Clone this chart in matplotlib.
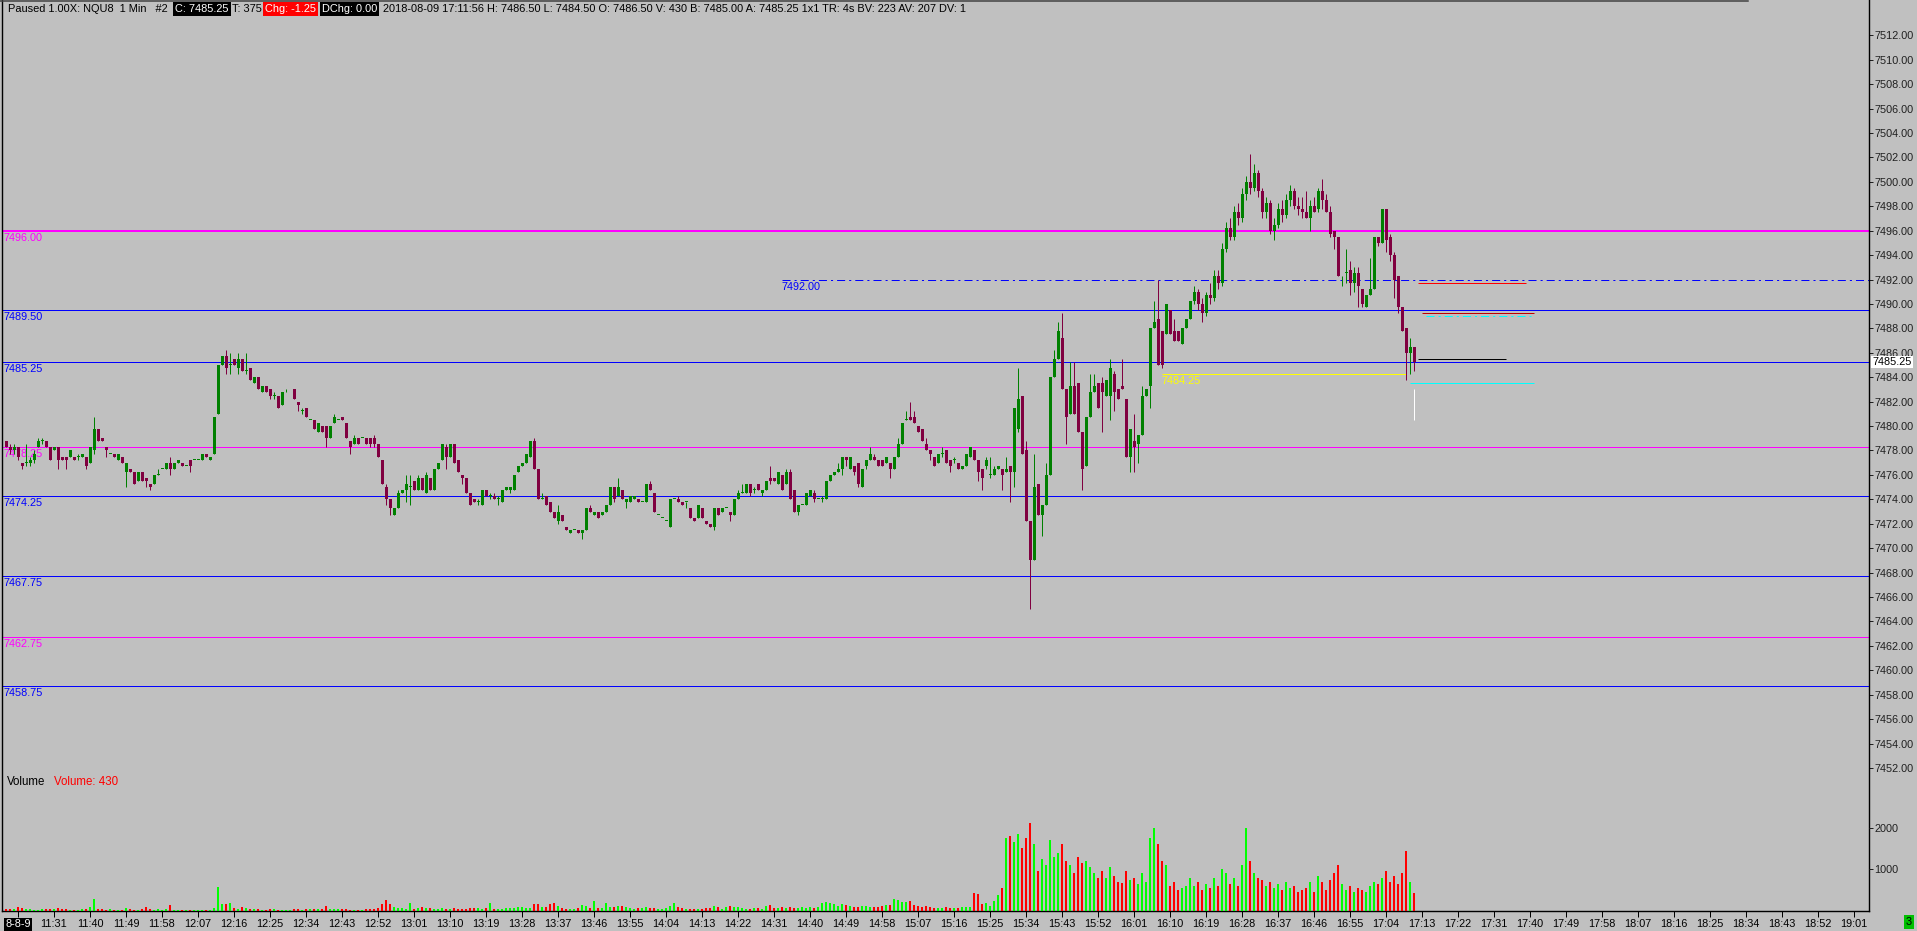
import matplotlib
matplotlib.use('Agg')
import matplotlib.pyplot as plt
from matplotlib import font_manager
from matplotlib.lines import Line2D

W, H = 1917, 931
BG = '#c0c0c0'

names = {f.name for f in font_manager.fontManager.ttflist}
FONT = 'Liberation Sans' if 'Liberation Sans' in names else 'DejaVu Sans'
plt.rcParams['font.family'] = [FONT, 'DejaVu Sans']
plt.rcParams['lines.scale_dashes'] = False
FS = 7.8

# 1-minute bars, 11:19 .. 17:11
opens = [
    7478.75, 7478.25, 7478.0, 7478.25, 7477.0, 7477.0, 7477.0, 7477.25, 7478.25, 7478.75,
    7478.75, 7478.25, 7478.0, 7478.25, 7477.5, 7477.5, 7477.5, 7477.5, 7477.5, 7477.5,
    7477.5, 7477.0, 7478.0, 7479.75, 7479.0, 7478.25, 7477.75, 7477.75, 7477.25, 7477.5,
    7476.25, 7476.5, 7476.25, 7475.5, 7476.25, 7475.75, 7475.25, 7475.25, 7476.0, 7476.5,
    7476.5, 7477.0, 7476.5, 7477.0, 7477.0, 7476.75, 7477.25, 7477.25, 7477.25, 7477.25,
    7477.75, 7477.25, 7477.75, 7481.0, 7485.0, 7485.75, 7485.0, 7485.5, 7484.75, 7485.5,
    7484.5, 7484.75, 7483.5, 7484.0, 7482.75, 7483.25, 7483.0, 7482.5, 7482.5, 7481.75,
    7482.75, 7482.75, 7483.0, 7482.0, 7481.25, 7481.5, 7480.5, 7480.5, 7479.5, 7480.0,
    7480.0, 7479.0, 7480.25, 7480.5, 7480.75, 7480.25, 7478.75, 7478.5, 7479.0, 7479.0,
    7479.0, 7479.0, 7479.0, 7478.5, 7477.25, 7475.0, 7474.0, 7472.75, 7473.25, 7474.5,
    7474.75, 7475.0, 7475.5, 7474.75, 7475.75, 7474.5, 7475.75, 7474.75, 7476.5, 7477.25,
    7478.25, 7477.5, 7478.5, 7477.25, 7476.0, 7475.75, 7474.5, 7474.0, 7473.75, 7473.5,
    7474.75, 7474.25, 7474.25, 7474.0, 7473.75, 7474.75, 7474.75, 7474.75, 7476.25, 7476.75,
    7477.0, 7477.5, 7478.75, 7476.5, 7474.0, 7474.25, 7473.75, 7473.0, 7472.25, 7472.75,
    7471.75, 7471.25, 7471.5, 7471.5, 7471.25, 7471.5, 7473.25, 7472.75, 7473.0, 7472.75,
    7473.0, 7473.5, 7475.0, 7474.25, 7474.75, 7473.75, 7473.75, 7474.0, 7474.0, 7473.75,
    7473.75, 7475.25, 7474.5, 7472.75, 7472.5, 7472.25, 7471.75, 7474.0, 7474.0, 7473.75,
    7473.75, 7473.25, 7472.5, 7472.5, 7473.25, 7472.25, 7472.0, 7471.75, 7473.25, 7473.0,
    7473.25, 7473.0, 7472.75, 7474.0, 7474.5, 7474.5, 7475.25, 7474.75, 7475.25, 7474.5,
    7474.75, 7475.75, 7475.75, 7475.25, 7476.0, 7475.25, 7476.25, 7474.75, 7473.0, 7473.5,
    7473.5, 7474.25, 7474.5, 7474.0, 7474.0, 7474.0, 7475.5, 7476.0, 7476.25, 7476.5,
    7477.5, 7476.5, 7476.75, 7477.0, 7475.0, 7476.75, 7477.25, 7477.5, 7477.25, 7477.25,
    7477.0, 7477.0, 7476.5, 7477.5, 7478.5, 7480.5, 7480.75, 7480.75, 7480.0, 7479.75,
    7478.5, 7478.0, 7477.5, 7477.0, 7477.75, 7478.0, 7477.25, 7477.25, 7477.0, 7476.5,
    7476.75, 7477.5, 7478.0, 7477.25, 7476.5, 7476.75, 7476.0, 7476.0, 7476.5, 7476.5,
    7476.25, 7476.75, 7476.25, 7479.75, 7482.5, 7478.0, 7472.25, 7469.0, 7475.25, 7472.75,
    7473.5, 7476.0, 7484.0, 7485.5, 7487.25, 7483.0, 7481.0, 7483.25, 7483.5, 7479.5,
    7476.75, 7480.75, 7482.75, 7483.5, 7483.5, 7482.5, 7482.5, 7484.25, 7483.0, 7483.25,
    7482.25, 7477.5, 7478.75, 7478.5, 7479.25, 7482.5, 7483.25, 7488.0, 7488.75, 7487.75,
    7487.5, 7489.5, 7487.75, 7487.75, 7486.75, 7488.0, 7488.75, 7490.25, 7491.0, 7490.0,
    7489.25, 7490.75, 7490.5, 7492.25, 7491.75, 7494.5, 7496.25, 7495.5, 7497.5, 7497.0,
    7499.0, 7500.0, 7499.5, 7500.75, 7499.25, 7497.5, 7498.25, 7496.0, 7496.5, 7497.75,
    7497.25, 7498.5, 7499.25, 7498.0, 7497.75, 7497.5, 7497.0, 7498.0, 7497.75, 7499.25,
    7498.5, 7497.5, 7496.0, 7495.5, 7492.25, 7492.5, 7492.75, 7491.75, 7492.5, 7491.25,
    7489.75, 7490.75, 7491.25, 7495.5, 7495.0, 7497.75, 7495.5, 7494.0, 7492.25, 7489.75,
    7488.0, 7486.0, 7486.5,
]
highs = [
    7478.75, 7478.5, 7478.5, 7478.25, 7477.0, 7478.5, 7477.5, 7478.0, 7479.0, 7479.0,
    7478.75, 7478.25, 7478.25, 7478.25, 7477.5, 7477.5, 7478.0, 7477.5, 7477.75, 7477.75,
    7477.5, 7478.25, 7480.75, 7479.75, 7479.0, 7478.25, 7477.75, 7477.75, 7477.75, 7477.5,
    7477.0, 7476.5, 7476.25, 7476.25, 7476.25, 7475.75, 7475.25, 7476.0, 7476.5, 7476.5,
    7477.0, 7477.5, 7477.0, 7477.25, 7477.0, 7476.75, 7477.25, 7477.25, 7477.25, 7477.75,
    7477.75, 7477.5, 7480.75, 7485.0, 7485.75, 7486.25, 7486.0, 7485.5, 7486.0, 7485.5,
    7486.0, 7484.75, 7484.0, 7484.0, 7483.25, 7483.25, 7483.0, 7482.75, 7482.5, 7482.75,
    7483.0, 7482.75, 7483.0, 7482.0, 7481.5, 7481.5, 7480.5, 7480.5, 7480.25, 7480.0,
    7480.0, 7480.0, 7481.0, 7480.5, 7480.75, 7480.25, 7478.75, 7479.25, 7479.0, 7479.0,
    7479.0, 7479.0, 7479.25, 7478.5, 7477.25, 7475.25, 7474.0, 7473.25, 7474.75, 7474.75,
    7476.0, 7476.0, 7475.5, 7476.0, 7475.75, 7476.25, 7475.75, 7476.5, 7477.0, 7478.5,
    7478.5, 7478.5, 7478.5, 7477.25, 7476.0, 7475.75, 7474.5, 7474.0, 7474.0, 7474.75,
    7474.75, 7474.5, 7474.5, 7474.25, 7474.75, 7475.0, 7475.0, 7476.0, 7476.75, 7477.0,
    7477.75, 7478.75, 7479.0, 7476.5, 7474.5, 7474.25, 7473.75, 7473.0, 7473.5, 7472.75,
    7471.75, 7471.5, 7471.5, 7471.5, 7471.5, 7473.25, 7473.5, 7473.0, 7473.0, 7473.0,
    7473.5, 7475.0, 7475.0, 7475.75, 7474.75, 7474.0, 7474.25, 7474.25, 7474.0, 7473.75,
    7475.25, 7475.5, 7474.5, 7472.75, 7472.5, 7472.25, 7474.0, 7474.0, 7474.25, 7473.75,
    7473.75, 7473.25, 7472.5, 7473.5, 7473.25, 7472.25, 7472.0, 7473.25, 7473.25, 7473.25,
    7473.25, 7473.0, 7474.0, 7474.75, 7475.25, 7475.25, 7475.25, 7475.0, 7475.25, 7474.75,
    7475.5, 7476.75, 7475.75, 7476.25, 7476.0, 7476.5, 7476.5, 7474.75, 7473.5, 7473.5,
    7474.5, 7474.75, 7474.75, 7474.0, 7474.25, 7475.5, 7476.0, 7476.25, 7477.0, 7477.5,
    7477.5, 7477.5, 7476.75, 7477.0, 7476.5, 7477.25, 7478.25, 7477.75, 7477.25, 7477.25,
    7477.5, 7477.0, 7477.5, 7479.0, 7480.25, 7481.25, 7482.0, 7481.25, 7480.0, 7479.75,
    7479.0, 7478.0, 7477.5, 7477.75, 7478.25, 7478.0, 7477.25, 7477.5, 7477.0, 7476.75,
    7477.75, 7478.25, 7478.0, 7477.25, 7476.5, 7477.5, 7477.5, 7476.75, 7476.75, 7476.5,
    7477.5, 7476.75, 7481.5, 7484.75, 7482.5, 7478.75, 7472.25, 7477.75, 7475.25, 7473.5,
    7477.0, 7484.0, 7486.25, 7488.5, 7489.25, 7483.0, 7485.25, 7485.25, 7483.5, 7479.5,
    7480.75, 7484.25, 7484.25, 7483.5, 7484.0, 7483.75, 7485.5, 7484.5, 7483.0, 7485.5,
    7482.25, 7479.75, 7481.0, 7479.25, 7483.25, 7483.0, 7488.0, 7490.25, 7492.0, 7487.75,
    7490.0, 7489.5, 7488.75, 7487.75, 7488.0, 7488.75, 7490.25, 7491.5, 7491.25, 7490.5,
    7491.0, 7491.75, 7492.75, 7492.75, 7495.0, 7496.75, 7497.0, 7498.0, 7498.25, 7499.5,
    7500.5, 7502.25, 7501.5, 7501.0, 7499.5, 7498.75, 7498.5, 7497.0, 7498.25, 7498.5,
    7499.0, 7499.75, 7499.5, 7498.75, 7498.75, 7499.25, 7498.5, 7498.75, 7499.5, 7500.25,
    7499.0, 7498.0, 7496.0, 7495.5, 7492.25, 7494.5, 7493.5, 7493.0, 7493.0, 7491.25,
    7490.75, 7493.75, 7495.5, 7495.5, 7497.75, 7497.75, 7495.75, 7494.25, 7492.25, 7489.75,
    7488.0, 7487.25, 7486.5,
]
lows = [
    7478.25, 7477.75, 7477.75, 7477.25, 7476.5, 7476.75, 7476.75, 7477.0, 7478.25, 7478.5,
    7478.25, 7477.25, 7478.0, 7476.5, 7477.25, 7476.5, 7477.5, 7477.25, 7477.25, 7477.5,
    7476.5, 7477.0, 7477.75, 7478.75, 7478.75, 7477.5, 7477.75, 7477.5, 7477.25, 7477.0,
    7475.0, 7476.25, 7475.25, 7475.5, 7475.5, 7475.0, 7474.75, 7475.25, 7476.0, 7476.5,
    7476.5, 7476.0, 7476.5, 7477.0, 7476.75, 7476.75, 7476.25, 7477.25, 7477.25, 7477.25,
    7477.5, 7477.25, 7477.75, 7481.0, 7485.0, 7484.25, 7484.25, 7485.0, 7484.25, 7484.5,
    7484.25, 7483.75, 7483.5, 7483.0, 7482.75, 7482.75, 7482.25, 7482.25, 7481.5, 7481.75,
    7482.75, 7482.75, 7482.25, 7481.25, 7481.0, 7480.75, 7480.5, 7479.75, 7479.5, 7479.5,
    7478.25, 7479.0, 7480.25, 7480.5, 7480.5, 7479.0, 7477.75, 7478.5, 7478.5, 7479.0,
    7478.5, 7478.25, 7478.25, 7477.5, 7475.25, 7473.5, 7472.75, 7472.75, 7473.25, 7474.5,
    7473.75, 7473.5, 7474.75, 7474.75, 7474.75, 7474.5, 7474.75, 7474.75, 7476.5, 7477.25,
    7476.5, 7477.5, 7477.0, 7476.25, 7475.25, 7474.5, 7473.5, 7473.75, 7473.5, 7473.5,
    7474.25, 7474.0, 7474.0, 7473.5, 7473.75, 7474.75, 7474.5, 7474.75, 7476.25, 7476.75,
    7477.0, 7477.5, 7476.5, 7474.0, 7474.0, 7473.5, 7473.0, 7472.5, 7472.0, 7472.25,
    7471.5, 7471.25, 7471.5, 7471.25, 7470.75, 7471.5, 7473.0, 7472.75, 7472.5, 7472.75,
    7473.0, 7473.5, 7473.75, 7474.25, 7474.0, 7473.25, 7473.75, 7474.0, 7473.75, 7473.75,
    7473.75, 7474.75, 7473.0, 7472.75, 7472.5, 7472.25, 7471.75, 7474.0, 7473.75, 7473.5,
    7473.25, 7472.5, 7472.25, 7472.5, 7472.5, 7472.0, 7471.75, 7471.5, 7472.75, 7473.0,
    7473.25, 7472.25, 7472.75, 7474.0, 7474.5, 7474.5, 7474.25, 7474.5, 7474.75, 7474.25,
    7474.75, 7475.25, 7475.5, 7475.25, 7474.75, 7475.25, 7474.0, 7473.0, 7472.75, 7473.5,
    7473.5, 7474.25, 7473.75, 7474.0, 7473.75, 7474.0, 7475.5, 7476.0, 7476.25, 7476.0,
    7476.75, 7476.5, 7476.0, 7475.0, 7475.0, 7476.5, 7477.25, 7477.25, 7476.75, 7476.75,
    7477.0, 7475.75, 7476.5, 7477.5, 7478.5, 7480.5, 7480.5, 7480.25, 7479.5, 7478.75,
    7478.0, 7477.25, 7476.75, 7477.0, 7477.5, 7477.0, 7476.25, 7477.0, 7476.5, 7476.5,
    7476.75, 7477.5, 7477.25, 7475.5, 7474.75, 7476.5, 7475.75, 7476.0, 7476.5, 7474.75,
    7476.25, 7473.75, 7475.0, 7479.5, 7477.75, 7472.25, 7465.0, 7469.0, 7472.75, 7471.0,
    7473.5, 7476.0, 7484.0, 7485.5, 7483.0, 7478.5, 7481.0, 7481.0, 7479.5, 7474.75,
    7476.75, 7480.75, 7482.75, 7481.5, 7479.5, 7482.5, 7480.5, 7481.25, 7482.25, 7483.0,
    7477.5, 7476.25, 7476.25, 7477.0, 7479.25, 7482.5, 7481.5, 7488.0, 7485.0, 7484.75,
    7487.5, 7487.5, 7487.0, 7487.0, 7486.75, 7488.0, 7488.75, 7490.0, 7489.5, 7488.5,
    7489.0, 7490.0, 7490.25, 7491.25, 7491.5, 7494.25, 7495.25, 7495.25, 7496.5, 7496.75,
    7498.5, 7499.0, 7499.25, 7498.75, 7497.0, 7497.0, 7495.75, 7495.25, 7496.25, 7496.75,
    7497.0, 7498.0, 7497.75, 7497.25, 7497.0, 7497.0, 7496.0, 7497.5, 7497.5, 7497.75,
    7497.5, 7495.5, 7494.5, 7492.25, 7491.5, 7491.75, 7490.75, 7491.0, 7489.75, 7489.75,
    7489.75, 7490.75, 7491.25, 7494.75, 7495.0, 7494.25, 7493.5, 7490.5, 7489.25, 7487.75,
    7483.75, 7484.25, 7484.5,
]
closes = [
    7478.25, 7478.0, 7478.25, 7477.5, 7476.75, 7477.0, 7477.25, 7477.75, 7478.75, 7478.75,
    7478.25, 7477.25, 7478.25, 7477.25, 7477.25, 7477.25, 7478.0, 7477.25, 7477.5, 7477.75,
    7476.75, 7478.25, 7479.75, 7478.75, 7478.75, 7478.0, 7477.75, 7477.5, 7477.75, 7477.0,
    7477.0, 7476.25, 7475.25, 7476.25, 7475.5, 7475.5, 7475.0, 7476.0, 7476.0, 7476.5,
    7477.0, 7476.5, 7477.0, 7477.25, 7476.75, 7476.75, 7476.75, 7477.25, 7477.25, 7477.75,
    7477.5, 7477.5, 7480.75, 7485.0, 7485.75, 7484.75, 7485.0, 7485.0, 7485.5, 7484.5,
    7484.5, 7483.75, 7484.0, 7483.0, 7483.25, 7482.75, 7482.5, 7482.5, 7481.5, 7482.75,
    7482.75, 7482.75, 7482.25, 7481.75, 7481.25, 7480.75, 7480.5, 7479.75, 7480.25, 7479.5,
    7479.0, 7480.0, 7480.75, 7480.5, 7480.5, 7479.0, 7478.25, 7479.0, 7478.5, 7479.0,
    7478.5, 7478.5, 7478.5, 7477.5, 7475.25, 7474.0, 7473.25, 7473.25, 7474.5, 7474.75,
    7475.25, 7475.0, 7474.75, 7475.75, 7474.75, 7476.0, 7474.75, 7476.5, 7477.0, 7478.5,
    7477.5, 7478.5, 7477.0, 7476.25, 7475.75, 7474.5, 7473.5, 7473.75, 7473.75, 7474.75,
    7474.25, 7474.25, 7474.0, 7474.0, 7474.75, 7475.0, 7475.0, 7476.0, 7476.75, 7477.0,
    7477.75, 7478.75, 7476.5, 7474.0, 7474.0, 7473.5, 7473.0, 7472.5, 7473.0, 7472.25,
    7471.5, 7471.5, 7471.5, 7471.25, 7471.5, 7473.25, 7473.0, 7473.0, 7472.5, 7473.0,
    7473.5, 7475.0, 7474.0, 7475.0, 7474.0, 7474.0, 7474.25, 7474.25, 7473.75, 7473.75,
    7475.25, 7474.75, 7473.0, 7472.75, 7472.5, 7472.25, 7474.0, 7474.0, 7473.75, 7473.5,
    7473.75, 7472.5, 7472.25, 7473.5, 7472.5, 7472.0, 7471.75, 7473.25, 7472.75, 7473.25,
    7473.25, 7472.75, 7474.0, 7474.5, 7474.5, 7475.25, 7474.5, 7474.75, 7474.75, 7474.75,
    7475.5, 7475.5, 7475.5, 7476.25, 7474.75, 7476.25, 7474.0, 7473.0, 7473.5, 7473.5,
    7474.5, 7474.75, 7474.0, 7474.0, 7474.0, 7475.5, 7476.0, 7476.25, 7476.5, 7477.5,
    7477.25, 7477.5, 7476.25, 7475.25, 7476.5, 7477.25, 7477.75, 7477.25, 7476.75, 7476.75,
    7477.5, 7476.5, 7477.5, 7478.5, 7480.25, 7480.5, 7480.5, 7480.25, 7479.5, 7478.75,
    7478.0, 7477.75, 7476.75, 7477.75, 7477.75, 7477.0, 7476.75, 7477.25, 7476.5, 7476.75,
    7477.75, 7478.25, 7477.25, 7476.25, 7475.75, 7477.25, 7476.0, 7476.5, 7476.75, 7476.0,
    7476.5, 7476.25, 7481.5, 7482.25, 7477.75, 7472.25, 7469.0, 7475.0, 7472.75, 7473.5,
    7476.0, 7484.0, 7485.5, 7487.75, 7483.0, 7480.75, 7483.25, 7481.0, 7479.5, 7476.5,
    7480.75, 7482.75, 7483.25, 7481.5, 7482.75, 7483.75, 7484.75, 7482.75, 7482.25, 7483.0,
    7477.5, 7479.75, 7478.25, 7479.25, 7482.5, 7483.0, 7488.0, 7488.5, 7485.0, 7485.0,
    7490.0, 7487.5, 7487.0, 7487.0, 7488.0, 7488.75, 7490.25, 7491.0, 7490.0, 7489.25,
    7490.75, 7490.5, 7492.25, 7491.75, 7494.5, 7496.25, 7495.5, 7497.5, 7497.0, 7499.0,
    7500.0, 7499.5, 7500.75, 7499.25, 7497.5, 7498.25, 7496.0, 7496.5, 7497.75, 7497.25,
    7498.5, 7499.25, 7498.0, 7497.75, 7497.5, 7497.0, 7498.0, 7497.5, 7499.25, 7498.5,
    7497.5, 7495.75, 7495.5, 7492.25, 7492.25, 7492.5, 7491.75, 7492.5, 7491.5, 7490.0,
    7490.75, 7491.25, 7495.5, 7495.0, 7497.75, 7495.25, 7494.0, 7492.0, 7489.75, 7487.75,
    7486.0, 7486.5, 7485.25,
]
volumes = [
    40, 40, 40, 88, 60, 48, 40, 32, 24, 40,
    56, 56, 40, 64, 56, 40, 24, 24, 24, 56,
    40, 96, 288, 48, 48, 24, 40, 32, 24, 24,
    64, 40, 24, 24, 40, 96, 40, 24, 56, 24,
    48, 152, 32, 24, 24, 32, 24, 24, 32, 32,
    24, 32, 80, 568, 168, 168, 184, 72, 56, 88,
    72, 40, 40, 40, 32, 32, 40, 40, 32, 24,
    32, 32, 40, 40, 32, 40, 40, 40, 56, 40,
    112, 56, 40, 40, 56, 40, 32, 24, 24, 32,
    40, 40, 48, 72, 168, 256, 168, 96, 72, 72,
    56, 184, 56, 64, 88, 64, 80, 48, 56, 64,
    48, 56, 64, 40, 56, 48, 72, 64, 80, 56,
    80, 184, 40, 56, 56, 64, 72, 80, 96, 88,
    80, 72, 160, 160, 96, 96, 160, 192, 120, 64,
    56, 40, 40, 64, 136, 112, 80, 240, 64, 80,
    200, 96, 88, 112, 120, 104, 64, 56, 64, 80,
    96, 80, 72, 56, 56, 64, 120, 200, 96, 72,
    48, 40, 48, 40, 56, 72, 64, 120, 96, 48,
    88, 112, 96, 88, 72, 56, 56, 64, 80, 56,
    120, 144, 72, 64, 96, 80, 88, 72, 64, 88,
    72, 96, 80, 88, 184, 208, 200, 176, 120, 160,
    136, 120, 96, 104, 120, 112, 96, 88, 96, 112,
    136, 152, 296, 264, 224, 216, 240, 136, 120, 104,
    120, 96, 80, 72, 64, 96, 80, 64, 72, 88,
    96, 104, 420, 410, 176, 200, 120, 240, 380, 560,
    1750, 1800, 1650, 1850, 1500, 1750, 2100, 1600, 950, 1250,
    1100, 1700, 1300, 1400, 1600, 1200, 1100, 900, 1300, 1150,
    1200, 1050, 900, 800, 950, 780, 1050, 850, 700, 680,
    950, 750, 800, 650, 900, 700, 1750, 2000, 1600, 1200,
    1100, 600, 700, 500, 550, 600, 800, 600, 700, 500,
    650, 550, 800, 600, 1000, 900, 650, 800, 600, 1100,
    2000, 1200, 900, 800, 750, 600, 700, 550, 650, 500,
    700, 550, 600, 450, 500, 550, 700, 450, 850, 700,
    500, 750, 900, 1100, 650, 500, 600, 450, 550, 500,
    450, 600, 700, 650, 800, 950, 700, 850, 650, 900,
    1450, 700, 430,
]
assert len(opens) == len(highs) == len(lows) == len(closes) == len(volumes) == 353

time_labels = ['8-8-9', '11:31', '11:40', '11:49', '11:58', '12:07', '12:16', '12:25', '12:34',
               '12:43', '12:52', '13:01', '13:10', '13:19', '13:28', '13:37', '13:46', '13:55',
               '14:04', '14:13', '14:22', '14:31', '14:40', '14:49', '14:58', '15:07', '15:16',
               '15:25', '15:34', '15:43', '15:52', '16:01', '16:10', '16:19', '16:28', '16:37',
               '16:46', '16:55', '17:04', '17:13', '17:22', '17:31', '17:40', '17:49', '17:58',
               '18:07', '18:16', '18:25', '18:34', '18:43', '18:52', '19:01']
price_ticks = [7452 + 2 * k for k in range(31)]
volume_ticks = [1000, 2000]

# horizontal levels drawn across the chart
level_prices = [7496.00, 7489.50, 7485.25, 7478.25, 7474.25, 7467.75, 7462.75, 7458.75]
level_colors = ['#ff00ff', '#0000ff', '#0000ff', '#ff00ff', '#0000ff', '#0000ff', '#ff00ff', '#0000ff']
level_widths = [2, 1, 1, 1, 1, 1, 1, 1]

UP, DOWN = '#008000', '#800040'
VUP, VDOWN = '#00ff00', '#ff0000'
PX = 0.72  # one pixel in points

fig = plt.figure(figsize=(W / 100, H / 100), dpi=100, facecolor=BG)
rect = [2 / W, 20 / H, 1867 / W, 911 / H]
ax = fig.add_axes(rect, facecolor=BG)
ax2 = fig.add_axes(rect, sharex=ax, facecolor='none')

xs = list(range(len(closes)))
ups = [c >= o for o, c in zip(opens, closes)]
ccol = [UP if u else DOWN for u in ups]
vcol = [VUP if u else VDOWN for u in ups]

# volume
ax2.bar(xs, volumes, width=0.6, color=vcol, linewidth=0)
ax2.set_ylim(0, 21846)

# levels
for lvl, col, lw in zip(level_prices, level_colors, level_widths):
    ax.axhline(lvl, color=col, lw=lw * PX, zorder=1)
    ax.annotate(f'{lvl:.2f}', xy=(0, lvl), xycoords=('axes fraction', 'data'),
                xytext=(2, -2), textcoords='offset pixels', va='top', ha='left',
                color=col, fontsize=FS)

dash_dot = (0, (5.8, 2.9, 1.5, 2.9))
ax.hlines(7492.00, 194, 465.75, color='#0000ff', lw=PX, linestyles=[dash_dot], zorder=1)
ax.annotate('7492.00', xy=(194, 7492.00), xytext=(0, -2), textcoords='offset pixels',
            va='top', ha='left', color='#0000ff', fontsize=FS)
ax.hlines(7484.25, 289, 350, color='#ffff00', lw=PX, zorder=1)
ax.annotate('7484.25', xy=(289, 7484.25), xytext=(0, -2), textcoords='offset pixels',
            va='top', ha='left', color='#ffff00', fontsize=FS)

# short marks to the right of the last bar
ax.hlines(7491.75, 353, 380, color='#ff0000', lw=PX)
ax.hlines(7489.25, 354, 382, color='#c00000', lw=PX)
ax.hlines(7489.00, 355, 381.25, color='#00ffff', lw=PX, linestyles=[dash_dot])
ax.hlines(7485.50, 353, 375, color='black', lw=PX)
ax.hlines(7483.50, 351, 382, color='#00ffff', lw=PX)
ax.vlines(352, 7480.5, 7483.0, color='white', lw=PX)

# candles
ax.vlines(xs, lows, highs, colors=ccol, lw=PX, zorder=3)
bottoms = [min(o, c) for o, c in zip(opens, closes)]
heights = [max(abs(c - o), 0.08) for o, c in zip(opens, closes)]
ax.bar(xs, heights, bottom=bottoms, width=0.75, color=ccol, linewidth=0, zorder=4)

ax.set_xlim(-1.0, 465.75)
ax.set_ylim(7440.283, 7514.894)

for a in (ax, ax2):
    a.yaxis.tick_right()
    for s in ('top', 'left', 'right', 'bottom'):
        a.spines[s].set_visible(False)
for s in ('left', 'right', 'bottom'):
    ax.spines[s].set_visible(True)
    ax.spines[s].set_color('black')
    ax.spines[s].set_linewidth(PX * 1.4)

ax.set_yticks(price_ticks)
ax.set_yticklabels([f'{v:.2f}' for v in price_ticks])
ax2.set_yticks(volume_ticks)
ax2.set_yticklabels([str(v) for v in volume_ticks])
for a in (ax, ax2):
    a.tick_params(axis='y', length=3, width=PX, pad=1, labelsize=FS, colors='#202020')

ax.set_xticks([3 + 9 * k for k in range(len(time_labels))])
ax.set_xticklabels(time_labels)
ax.tick_params(axis='x', length=4, width=PX, pad=2, labelsize=FS, colors='black')
ax2.tick_params(axis='x', length=0, labelbottom=False)
first = ax.get_xticklabels()[0]
first.set_color('white')
first.set_bbox(dict(facecolor='black', edgecolor='none', pad=1))

# last price box on the price scale
ax.annotate('7485.25', xy=(1, 7485.25), xycoords=('axes fraction', 'data'),
            xytext=(3, 0), textcoords='offset pixels', va='center', ha='left',
            fontsize=FS, color='black', annotation_clip=False, zorder=10,
            bbox=dict(facecolor='white', edgecolor='none', pad=1))


def ftext(x, y, s, size=7.9, **kw):
    return fig.text(x / W, 1 - y / H, s, va='center', ha='left', fontsize=size, **kw)


# header line
ftext(8, 9, 'Paused 1.00X: NQU8  1 Min   #2', color='black')
ftext(175, 9, 'C: 7485.25', color='white', bbox=dict(facecolor='black', edgecolor='none', pad=1.5))
ftext(232, 9, 'T: 375', color='black')
ftext(265, 9, 'Chg: -1.25', color='white', bbox=dict(facecolor='#ff0000', edgecolor='none', pad=1.5))
ftext(322, 9, 'DChg: 0.00', color='white', bbox=dict(facecolor='black', edgecolor='none', pad=1.5))
ftext(383, 9, '2018-08-09 17:11:56 H: 7486.50 L: 7484.50 O: 7486.50 V: 430 B: 7485.00 '
              'A: 7485.25 1x1 TR: 4s BV: 223 AV: 207 DV: 1', color='black')
fig.add_artist(Line2D([0, 1748 / W], [1 - 0.6 / H] * 2, color='#404040', lw=1.5 * PX))

# volume pane title
ftext(7, 782, 'Volume', size=8.3, color='black')
ftext(54, 782, 'Volume: 430', size=8.3, color='#ff0000')

fig.text(1909 / W, 1 - 922 / H, '3', ha='center', va='center', fontsize=FS, color='black',
         bbox=dict(facecolor='#00c000', edgecolor='none', pad=1.5))

fig.savefig('out.png', dpi=100, facecolor=BG)
